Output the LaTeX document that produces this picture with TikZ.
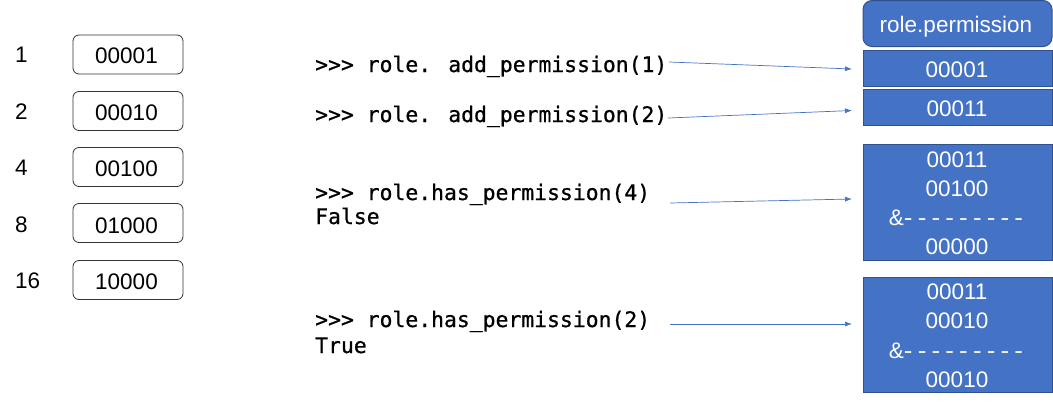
\documentclass[tikz,border=0pt]{standalone}
\usepackage{fontspec}
\setmainfont{Liberation Sans}
\newfontfamily\codefont[FakeBold=0.8]{DejaVu Sans Mono}
\usetikzlibrary{arrows.meta}
\definecolor{pblue}{HTML}{4472C4}
\definecolor{pborder}{HTML}{2F528F}
\newcommand\dsh{\scalebox{1.15}[1]{-}\kern5.2pt}
\begin{document}
\begin{tikzpicture}[x=1pt,y=-1pt,
  txt/.style={font=\fontsize{22.5}{26}\selectfont,inner sep=0pt,anchor=base},
  code/.style={font=\codefont\fontsize{21.4}{25}\selectfont,inner sep=0pt,anchor=base west},
  bitbox/.style={draw=black!80,line width=0.8pt,rounded corners=6pt,minimum width=110pt,minimum height=39pt,inner sep=0pt},
  permbox/.style={draw=pborder,fill=pblue,line width=1pt,minimum width=189pt,inner sep=0pt},
  wtxt/.style={txt,text=white},
  conn/.style={draw=pblue,line width=0.7pt,-{Latex[length=7pt,width=5pt]}}]
\useasboundingbox (0,0) rectangle (1053,408);
% left column
\foreach \n/\b/\y/\t in {1/62/54.5/00001, 2/119/111/00010, 4/175/167/00100, 8/232/223/01000, 16/288/280/10000}{
  \node[txt,anchor=base west] (num\n) at (15,\b) {\n};
  \node[bitbox] (bit\n) at (128,\y) {};
  \node[txt] (bt\n) at (126.5,\b+1) {\t};
}
% code lines
\node[code] (c1) at (315,72) {>>> role. add\_permission(1)};
\node[code] (c2) at (315,122) {>>> role. add\_permission(2)};
\node[code] (c3) at (315,200) {>>> role.has\_permission(4)};
\node[code] (r3) at (315,224) {False};
\node[code] (c4) at (315,327) {>>> role.has\_permission(2)};
\node[code] (r4) at (315,353) {True};
% right boxes
\node[permbox,rounded corners=9pt,minimum height=46pt] (hdr) at (957.5,23.5) {};
\node[wtxt] (hdrt) at (956,32) {role.permission};
\node[permbox,minimum height=36pt] (p1) at (957.5,68) {};
\node[wtxt] (p1t) at (957,77) {00001};
\node[permbox,minimum height=36pt] (p2) at (957.5,107) {};
\node[wtxt] (p2t) at (957,116) {00011};
\node[permbox,minimum height=116pt] (p3) at (957.5,202) {};
\node[wtxt] (p3a) at (957,167) {00011};
\node[wtxt] (p3b) at (957,196) {00100};
\node[wtxt] (p3c) at (956,225) {\&\dsh\dsh\dsh\dsh\dsh\dsh\dsh\dsh\scalebox{1.15}[1]{-}};
\node[wtxt] (p3d) at (957,254) {00000};
\node[permbox,minimum height=115pt] (p4) at (957.5,334.5) {};
\node[wtxt] (p4a) at (957,299) {00011};
\node[wtxt] (p4b) at (957,328) {00010};
\node[wtxt] (p4c) at (956,358) {\&\dsh\dsh\dsh\dsh\dsh\dsh\dsh\dsh\scalebox{1.15}[1]{-}};
\node[wtxt] (p4d) at (957,387) {00010};
% connectors
\coordinate (s1) at (669,62);
\coordinate (e1) at (852,69);
\coordinate (s2) at (668,118);
\coordinate (e2) at (852,110.5);
\coordinate (s3) at (670,203);
\coordinate (e3) at (852,199);
\coordinate (s4) at (670,324);
\coordinate (e4) at (852,324);
\draw[conn] (s1) -- (e1);
\draw[conn] (s2) -- (e2);
\draw[conn] (s3) -- (e3);
\draw[conn] (s4) -- (e4);
\end{tikzpicture}
\end{document}
